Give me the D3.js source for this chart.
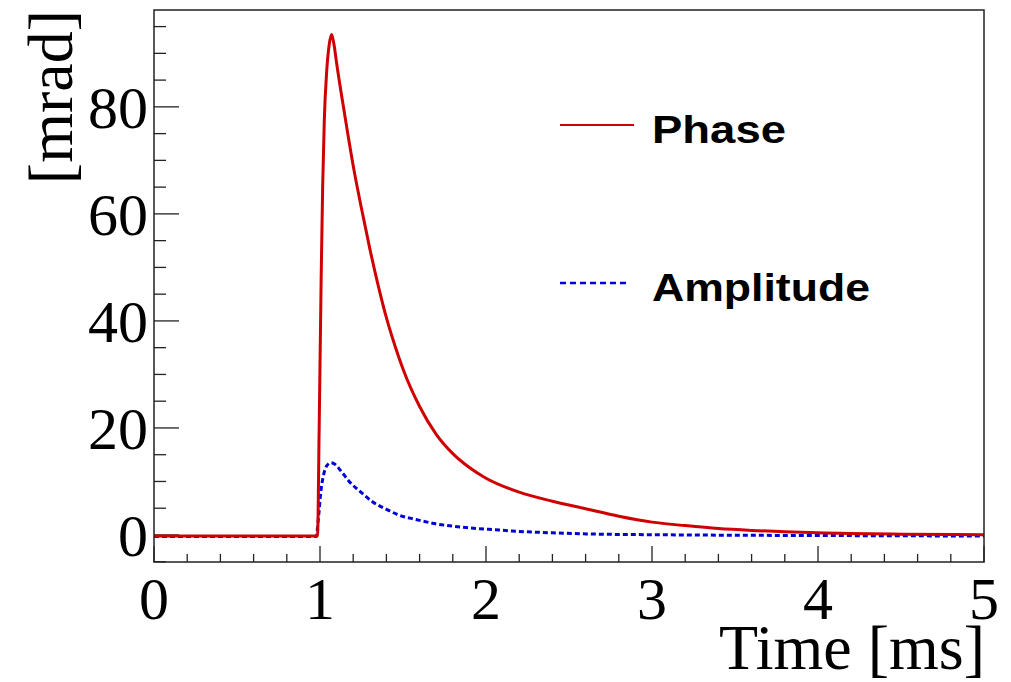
<!DOCTYPE html>
<html>
<head>
<meta charset="utf-8">
<script src="https://cdn.jsdelivr.net/npm/d3@7"></script>
<style>
  body { margin: 0; background: #fff; }
  svg { display: block; }
</style>
</head>
<body>
<svg id="chart" width="1011" height="682"></svg>
<script>
// time [ms] / value [mrad]
var phaseTime = [0, 0.5, 0.985, 0.995, 1.007, 1.016, 1.026, 1.04, 1.055, 1.07, 1.085, 1.1, 1.15, 1.2, 1.25, 1.3, 1.35, 1.4, 1.45, 1.5, 1.6, 1.7, 1.8, 1.9, 2.0, 2.2, 2.4, 2.6, 2.8, 3.0, 3.2, 3.4, 3.6, 3.8, 4.0, 4.5, 5.0];
var phaseVal  = [-0.2, -0.2, -0.2, 20, 48, 65, 77.6, 86.5, 91.5, 93.5, 91.5, 88.2, 78.3, 69, 61, 53.5, 46.7, 40.6, 35.5, 31, 24, 18.8, 15.2, 12.6, 10.6, 8.0, 6.3, 4.9, 3.5, 2.4, 1.75, 1.2, 0.85, 0.6, 0.4, 0.15, 0.05];

var ampTime = [0, 0.5, 0.977, 0.99, 1.006, 1.02, 1.04, 1.066, 1.09, 1.12, 1.176, 1.25, 1.316, 1.4, 1.477, 1.577, 1.677, 1.877, 2.077, 2.157, 2.4, 2.6, 3.0, 3.5, 4.0, 5.0];
var ampVal  = [-0.3, -0.3, -0.3, 3, 8.4, 11, 12.9, 13.5, 13.2, 12.2, 10, 7.9, 6.2, 4.8, 3.7, 2.9, 2.2, 1.4, 0.93, 0.75, 0.4, 0.2, 0.05, -0.05, -0.1, -0.2];

var xTicks = [0, 1, 2, 3, 4, 5];
var yTicks = [0, 20, 40, 60, 80];
var legendNames = ["Phase", "Amplitude"];

var svg = d3.select("#chart"),
    margin = {top: 10, right: 27, bottom: 120, left: 154},
    width = +svg.attr("width") - margin.left - margin.right,
    height = +svg.attr("height") - margin.top - margin.bottom,
    g = svg.append("g").attr("transform", "translate(" + margin.left + "," + margin.top + ")");

var x = d3.scaleLinear().domain([0, 5]).range([0, width]);
var y = d3.scaleLinear().domain([-5.05, 98.1]).range([height, 0]);

var serif = "'Liberation Serif', 'Times New Roman', serif";

// minor ticks
var xMinor = d3.range(0, 5.001, 0.2).filter(function(v) { return Math.abs(v - Math.round(v)) > 0.01; });
var yMinor = d3.range(-5, 98, 5).filter(function(v) { return v % 20 != 0; });

g.selectAll(".xminor").data(xMinor).enter().append("line")
    .attr("x1", function(d) { return x(d); }).attr("x2", function(d) { return x(d); })
    .attr("y1", height).attr("y2", height - 8)
    .attr("stroke", "#222").attr("stroke-width", 1.3);
g.selectAll(".xmajor").data(xTicks).enter().append("line")
    .attr("x1", function(d) { return x(d); }).attr("x2", function(d) { return x(d); })
    .attr("y1", height).attr("y2", height - 16)
    .attr("stroke", "#222").attr("stroke-width", 1.3);
g.selectAll(".yminor").data(yMinor).enter().append("line")
    .attr("x1", 0).attr("x2", 12)
    .attr("y1", function(d) { return y(d); }).attr("y2", function(d) { return y(d); })
    .attr("stroke", "#222").attr("stroke-width", 1.3);
g.selectAll(".ymajor").data(yTicks).enter().append("line")
    .attr("x1", 0).attr("x2", 25)
    .attr("y1", function(d) { return y(d); }).attr("y2", function(d) { return y(d); })
    .attr("stroke", "#222").attr("stroke-width", 1.3);

// tick labels
g.selectAll(".xlab").data(xTicks).enter().append("text")
    .attr("x", function(d) { return x(d); })
    .attr("y", height + 57)
    .attr("text-anchor", "middle")
    .style("font-family", serif).style("font-size", "60px")
    .text(function(d) { return d; });
g.selectAll(".ylab").data(yTicks).enter().append("text")
    .attr("x", -6)
    .attr("y", function(d) { return y(d) + 21; })
    .attr("text-anchor", "end")
    .style("font-family", serif).style("font-size", "60px")
    .text(function(d) { return d; });

// axis titles
svg.append("text")
    .attr("x", 985).attr("y", 669)
    .attr("text-anchor", "end")
    .style("font-family", serif).style("font-size", "64px")
    .text("Time [ms]");
svg.append("text")
    .attr("transform", "translate(72,10) rotate(-90)")
    .attr("text-anchor", "end")
    .style("font-family", serif).style("font-size", "64px")
    .text("[mrad]");

// curves
svg.append("clipPath").attr("id", "clip")
  .append("rect").attr("width", width).attr("height", height);

var line = d3.line()
    .curve(d3.curveMonotoneX)
    .x(function(d) { return x(d[0]); })
    .y(function(d) { return y(d[1]); });

var phase = d3.zip(phaseTime, phaseVal);
var amp = d3.zip(ampTime, ampVal);

var plot = g.append("g").attr("clip-path", "url(#clip)");
plot.append("path")
    .attr("d", line(amp))
    .attr("fill", "none")
    .attr("stroke", "#0000dd")
    .attr("stroke-width", 3)
    .attr("stroke-dasharray", "5,3");
plot.append("path")
    .attr("d", line(phase))
    .attr("fill", "none")
    .attr("stroke", "#d00000")
    .attr("stroke-width", 3);

// frame
g.append("rect")
    .attr("width", width).attr("height", height)
    .attr("fill", "none").attr("stroke", "#222").attr("stroke-width", 1.5);

// legend
var legend = svg.append("g");
var legY = [125, 283];
legend.append("line")
    .attr("x1", 560).attr("x2", 634).attr("y1", legY[0]).attr("y2", legY[0])
    .attr("stroke", "#d00000").attr("stroke-width", 2);
legend.append("line")
    .attr("x1", 560).attr("x2", 630).attr("y1", legY[1]).attr("y2", legY[1])
    .attr("stroke", "#0000dd").attr("stroke-width", 2.5)
    .attr("stroke-dasharray", "6,4");
legend.selectAll("text").data(legendNames).enter().append("text")
    .attr("x", 652)
    .attr("y", function(d, i) { return legY[i] + 18; })
    .attr("textLength", function(d, i) { return i == 0 ? 134 : 218; })
    .attr("lengthAdjust", "spacingAndGlyphs")
    .style("font-family", "'Liberation Sans', Arial, sans-serif")
    .style("font-weight", "bold")
    .style("font-size", "38px")
    .text(function(d) { return d; });
</script>
</body>
</html>
